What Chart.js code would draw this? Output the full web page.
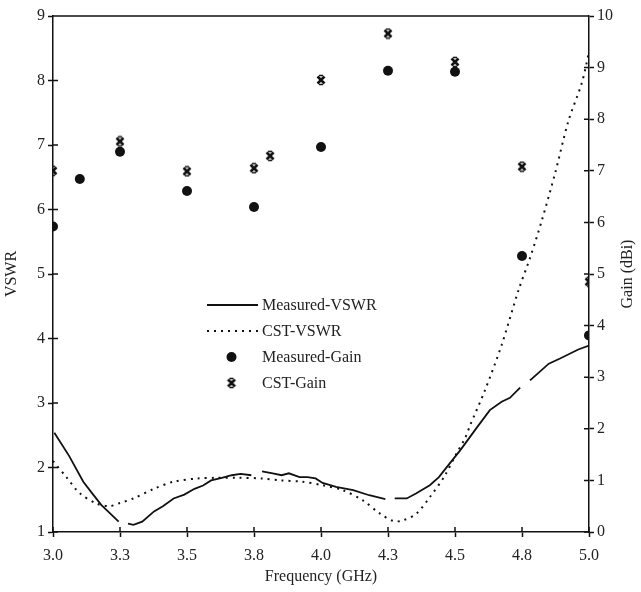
<!DOCTYPE html>
<html>
<head>
<meta charset="utf-8">
<script src="https://cdn.jsdelivr.net/npm/chart.js@4.4.0/dist/chart.umd.min.js"></script>
<style>
  body { margin: 0; background: #fff; }
  #wrap { width: 641px; height: 592px; }
</style>
</head>
<body>
<div id="wrap"><canvas id="chart" width="641" height="592"></canvas></div>
<script>
// Frequency axis ticks (GHz) and the labels printed under them
const xTickValues = [3.0, 3.25, 3.5, 3.75, 4.0, 4.25, 4.5, 4.75, 5.0];
const xTickLabels = ['3.0', '3.3', '3.5', '3.8', '4.0', '4.3', '4.5', '4.8', '5.0'];

// Measured VSWR (null = break in the trace)
const measVswrFreq = [3.005, 3.06, 3.113, 3.15, 3.18, 3.21, 3.245, 3.26,
    3.28, 3.30, 3.333, 3.377, 3.41, 3.45, 3.49, 3.528, 3.56, 3.59, 3.63, 3.667, 3.70, 3.74, 3.76,
    3.78, 3.82, 3.853, 3.88, 3.92, 3.95, 3.98, 4.006, 4.056, 4.12, 4.18, 4.24, 4.26,
    4.275, 4.32, 4.356, 4.406, 4.44, 4.47, 4.52, 4.58, 4.63, 4.674, 4.705, 4.743, 4.76,
    4.78, 4.85, 4.892, 4.96, 5.0];
const measVswr = [2.54, 2.18, 1.78, 1.58, 1.42, 1.30, 1.16, null,
    1.13, 1.11, 1.16, 1.32, 1.40, 1.52, 1.58, 1.67, 1.72, 1.80, 1.84, 1.88, 1.90, 1.88, null,
    1.94, 1.91, 1.88, 1.91, 1.85, 1.85, 1.83, 1.76, 1.70, 1.65, 1.57, 1.51, null,
    1.52, 1.52, 1.60, 1.725, 1.85, 2.01, 2.27, 2.61, 2.89, 3.02, 3.08, 3.24, null,
    3.35, 3.61, 3.69, 3.83, 3.89];

// Simulated (CST) VSWR
const cstVswrFreq = [3.0, 3.05, 3.10, 3.163, 3.21, 3.25, 3.30, 3.377, 3.45, 3.54, 3.61, 3.69,
    3.78, 3.85, 3.93, 4.006, 4.08, 4.156, 4.22, 4.27, 4.306, 4.356, 4.406, 4.46, 4.506, 4.537,
    4.556, 4.612, 4.674, 4.737, 4.78, 4.824, 4.874, 4.923, 4.973, 5.0];
const cstVswr = [2.10, 1.85, 1.60, 1.44, 1.40, 1.45, 1.52, 1.67, 1.78, 1.83, 1.84, 1.84,
    1.83, 1.80, 1.78, 1.725, 1.65, 1.49, 1.285, 1.17, 1.18, 1.285, 1.54, 1.86, 2.22, 2.45,
    2.65, 3.20, 3.90, 4.75, 5.25, 5.83, 6.57, 7.37, 7.96, 8.44];

// Gain (dBi)
const measGainFreq = [3.0, 3.1, 3.25, 3.5, 3.75, 4.0, 4.25, 4.5, 4.75, 5.0];
const measGain = [5.92, 6.84, 7.37, 6.61, 6.30, 7.46, 8.94, 8.92, 5.35, 3.81];
const cstGainFreq = [3.0, 3.25, 3.5, 3.75, 3.81, 4.0, 4.25, 4.5, 4.75, 5.0];
const cstGain = [7.0, 7.57, 6.99, 7.05, 7.29, 8.76, 9.66, 9.11, 7.08, 4.85];

const seriesNames = ['Measured-VSWR', 'CST-VSWR', 'Measured-Gain', 'CST-Gain'];

const ink = '#111';
const fontFamily = '"Liberation Serif", "Times New Roman", serif';

function pairs(xs, ys) {
    return xs.map((x, i) => ({ x: x, y: ys[i] }));
}

// asterisk-like marker used for CST gain
function makeStarMarker() {
    const c = document.createElement('canvas');
    c.width = 12;
    c.height = 12;
    const g = c.getContext('2d');
    g.strokeStyle = ink;
    g.lineWidth = 2.6;
    g.beginPath();
    g.moveTo(2.5, 2.5); g.lineTo(9.5, 9.5);
    g.moveTo(9.5, 2.5); g.lineTo(2.5, 9.5);
    g.stroke();
    g.lineWidth = 1.6;
    g.beginPath();
    g.moveTo(4, 1.5); g.lineTo(8, 1.5);
    g.moveTo(4, 10.5); g.lineTo(8, 10.5);
    g.stroke();
    return c;
}
const starMarker = makeStarMarker();

// inward tick marks, top border, right-hand title and the inset legend
const decorPlugin = {
    id: 'decor',
    afterDraw(chart) {
        const ctx = chart.ctx;
        const a = chart.chartArea;
        const len = 5;
        ctx.save();
        ctx.strokeStyle = ink;
        ctx.lineWidth = 1.5;
        ctx.beginPath();
        ctx.moveTo(a.left, a.top);
        ctx.lineTo(a.right, a.top);
        const sx = chart.scales.x;
        sx.ticks.forEach((t, i) => {
            const px = sx.getPixelForTick(i);
            ctx.moveTo(px, a.bottom);
            ctx.lineTo(px, a.bottom - len);
        });
        const sy = chart.scales.y;
        sy.ticks.forEach((t, i) => {
            const py = sy.getPixelForTick(i);
            ctx.moveTo(a.left, py);
            ctx.lineTo(a.left + len, py);
        });
        const sy2 = chart.scales.y2;
        sy2.ticks.forEach((t, i) => {
            const py = sy2.getPixelForTick(i);
            ctx.moveTo(a.right, py);
            ctx.lineTo(a.right - len, py);
        });
        ctx.stroke();

        // right axis title, reading bottom to top
        ctx.fillStyle = '#222';
        ctx.font = '16px ' + fontFamily;
        ctx.textAlign = 'center';
        ctx.textBaseline = 'middle';
        ctx.translate(628, (a.top + a.bottom) / 2);
        ctx.rotate(-Math.PI / 2);
        ctx.fillText('Gain (dBi)', 0, 0);
        ctx.restore();

        // legend
        ctx.save();
        const lx0 = 207, lx1 = 258, tx = 262;
        const rows = [305, 331, 357, 383];
        ctx.font = '16px ' + fontFamily;
        ctx.textBaseline = 'middle';
        ctx.textAlign = 'left';
        chart.data.datasets.forEach((ds, i) => {
            const y = rows[i];
            ctx.strokeStyle = ink;
            ctx.fillStyle = ink;
            if (ds.showLine !== false) {
                ctx.lineWidth = ds.borderWidth;
                ctx.setLineDash(ds.borderDash || []);
                ctx.beginPath();
                ctx.moveTo(lx0, y);
                ctx.lineTo(lx1, y);
                ctx.stroke();
                ctx.setLineDash([]);
            } else if (ds.pointStyle === 'circle') {
                ctx.beginPath();
                ctx.arc((lx0 + lx1) / 2 - 1, y, ds.pointRadius, 0, Math.PI * 2);
                ctx.fill();
            } else {
                ctx.drawImage(ds.pointStyle, (lx0 + lx1) / 2 - 7, y - 6);
            }
            ctx.fillStyle = '#222';
            ctx.fillText(ds.label, tx, y + 1);
        });
        ctx.restore();
    }
};

const axisGrid = {
    drawOnChartArea: false,
    drawTicks: true,
    tickLength: 5,
    tickWidth: 1.5,
    color: ink
};
const axisBorder = { display: true, color: ink, width: 1.5 };
const tickFont = { family: fontFamily, size: 16 };

new Chart(document.getElementById('chart'), {
    type: 'line',
    data: {
        datasets: [
            {
                label: seriesNames[0],
                data: pairs(measVswrFreq, measVswr),
                yAxisID: 'y',
                borderColor: ink,
                borderWidth: 1.8,
                pointRadius: 0,
                spanGaps: false,
                tension: 0
            },
            {
                label: seriesNames[1],
                data: pairs(cstVswrFreq, cstVswr),
                yAxisID: 'y',
                borderColor: ink,
                borderWidth: 2,
                borderDash: [2, 5],
                pointRadius: 0,
                tension: 0.3
            },
            {
                label: seriesNames[2],
                data: pairs(measGainFreq, measGain),
                yAxisID: 'y2',
                showLine: false,
                pointStyle: 'circle',
                pointRadius: 5,
                backgroundColor: ink,
                borderColor: ink,
                borderWidth: 0
            },
            {
                label: seriesNames[3],
                data: pairs(cstGainFreq, cstGain),
                yAxisID: 'y2',
                showLine: false,
                pointStyle: starMarker,
                pointRadius: 6,
                backgroundColor: ink,
                borderColor: ink
            }
        ]
    },
    options: {
        responsive: false,
        animation: false,
        devicePixelRatio: 1,
        layout: { padding: { top: 16, left: 0, right: 0, bottom: 0 } },
        plugins: {
            legend: { display: false },
            tooltip: { enabled: false }
        },
        scales: {
            x: {
                type: 'linear',
                min: 3,
                max: 5,
                afterBuildTicks: scale => {
                    scale.ticks = xTickValues.map(v => ({ value: v }));
                },
                afterFit: scale => { scale.height = 60; },
                ticks: {
                    color: '#222',
                    font: tickFont,
                    padding: 9,
                    maxRotation: 0,
                    autoSkip: false,
                    callback: (value, index) => xTickLabels[index]
                },
                grid: axisGrid,
                border: axisBorder,
                title: {
                    display: true,
                    text: 'Frequency (GHz)',
                    color: '#222',
                    font: { family: fontFamily, size: 16 },
                    padding: { top: 2, bottom: 6 }
                }
            },
            y: {
                position: 'left',
                min: 1,
                max: 9,
                afterFit: scale => { scale.width = 53; },
                ticks: { stepSize: 1, color: '#222', font: tickFont, padding: 3 },
                grid: axisGrid,
                border: axisBorder,
                title: {
                    display: true,
                    text: 'VSWR',
                    color: '#222',
                    font: { family: fontFamily, size: 16 },
                    padding: { top: 2, bottom: 0 }
                }
            },
            y2: {
                position: 'right',
                min: 0,
                max: 10,
                afterFit: scale => { scale.width = 52; },
                ticks: { stepSize: 1, color: '#222', font: tickFont, padding: 3 },
                grid: axisGrid,
                border: axisBorder
            }
        }
    },
    plugins: [decorPlugin]
});
</script>
</body>
</html>
